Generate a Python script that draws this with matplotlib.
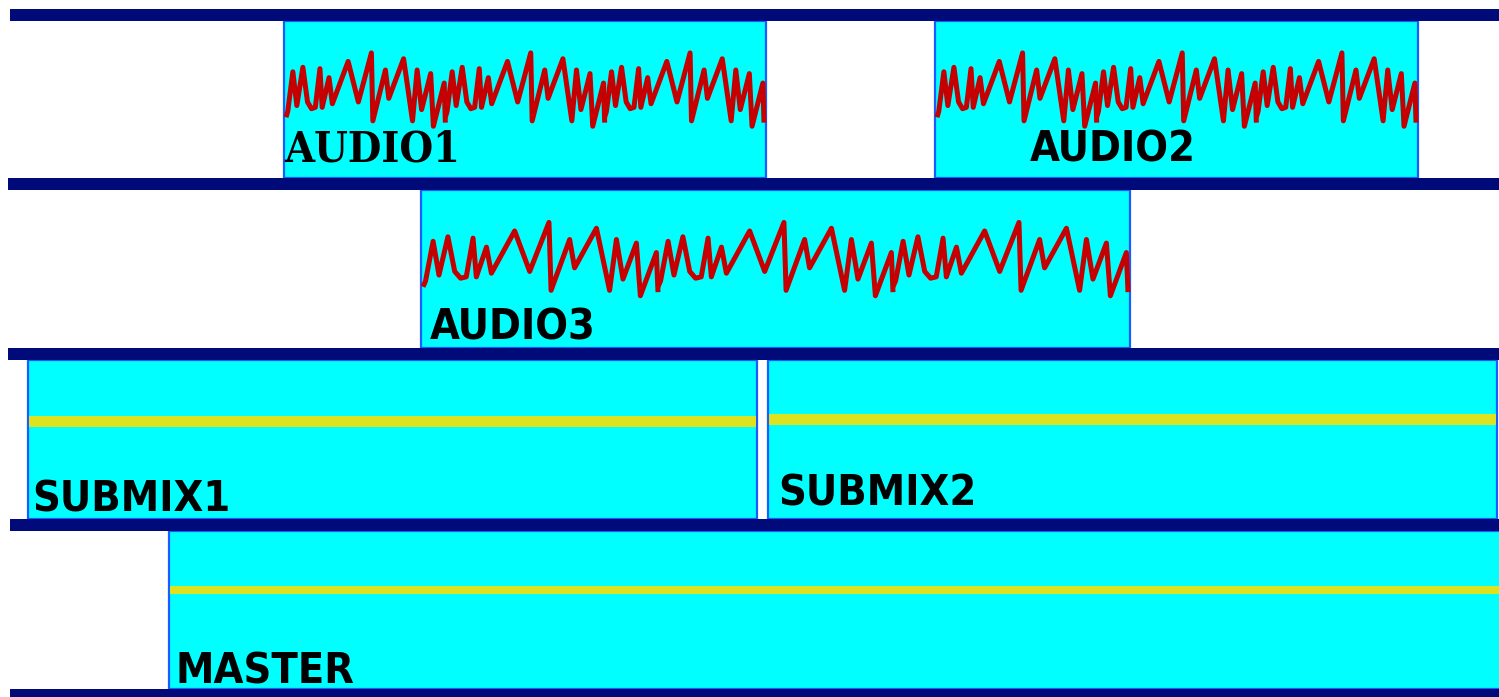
import numpy as np
import matplotlib.pyplot as plt
from matplotlib.patches import Rectangle

# separator bars (pixel rows, top edge) and their left ends
bar_top = [8.5, 178, 348, 519, 689]
bar_left = [10, 8, 8, 10, 10]
bar_h = 12

# clips: lane, start, end
clip_names = ['AUDIO1', 'AUDIO2', 'AUDIO3', 'SUBMIX1', 'SUBMIX2', 'MASTER']
clip_lane = [0, 0, 1, 2, 2, 3]
clip_start = [284, 935, 421, 28, 768, 169]
clip_end = [766, 1418, 1130, 757, 1497, 1515]
clip_kind = ['audio', 'audio', 'audio', 'bus', 'bus', 'bus']

# label placement
label_dx = [0, 95, 9, 4, 10, 7]
label_base = [162, 162, 340, 511, 506, 683]
label_serif = [True, False, False, False, False, False]

# level line of the buses (centre row, thickness px)
level_y = [421.5, 419.5, 590]
level_w = [11, 11, 8]

# one period of the waveform (t 0..1, amplitude)
wave_t = [0.000, 0.011, 0.043, 0.068, 0.106, 0.135, 0.160, 0.184, 0.213, 0.227,
          0.270, 0.291, 0.390, 0.454, 0.536, 0.545, 0.624, 0.645, 0.738, 0.794,
          0.823, 0.851, 0.908, 0.925, 0.993, 1.000]
wave_v = [-0.55, -0.42, 0.46, -0.29, 0.56, -0.21, -0.36, -0.33, 0.53, -0.33,
          0.33, -0.25, 0.69, -0.21, 0.88, -0.63, 0.50, -0.13, 0.75, -0.63,
          0.50, -0.38, 0.42, -0.75, 0.21, -0.67]
n_periods = 3

navy = '#000a78'
cyan = '#00ffff'
edge = '#1a5cff'
red = '#c60000'
yellow = '#dde31e'

fig = plt.figure(figsize=(14.99, 6.97), dpi=100)
ax = fig.add_axes([0, 0, 1, 1])
ax.set_xlim(0, 1499)
ax.set_ylim(697, 0)
ax.axis('off')

lane_top = [bar_top[i] + bar_h for i in range(4)]
lane_bot = [bar_top[i + 1] for i in range(4)]

bus_i = 0
for i, name in enumerate(clip_names):
    ln = clip_lane[i]
    x0, x1 = clip_start[i], clip_end[i]
    y0, y1 = lane_top[ln], lane_bot[ln]
    ax.add_patch(Rectangle((x0, y0), x1 - x0, y1 - y0, facecolor=cyan,
                           edgecolor=edge, linewidth=1.6, zorder=2))
    if clip_kind[i] == 'audio':
        w = (x1 - x0 - 4) / n_periods
        for p in range(n_periods):
            xs = [x0 + 2 + w * (p + t) for t in wave_t]
            ys = [y0 + 72 - v * 45 for v in wave_v]
            ax.plot(xs, ys, color=red, lw=3.6, solid_joinstyle='round',
                    solid_capstyle='butt', zorder=3)
    else:
        yc = level_y[bus_i]
        hw = level_w[bus_i]
        ax.add_patch(Rectangle((x0 + 1, yc - hw / 2), x1 - x0 - 2, hw,
                               facecolor=yellow, edgecolor='none', zorder=3))
        bus_i += 1
    fam = 'DejaVu Serif' if label_serif[i] else 'DejaVu Sans'
    ax.text(x0 + label_dx[i], label_base[i], name, family=fam,
            fontstretch='condensed', fontweight='bold', fontsize=31,
            va='baseline', ha='left', color='black', zorder=4)

for i in range(5):
    ax.add_patch(Rectangle((bar_left[i], bar_top[i]), 1499 - bar_left[i] + 5, bar_h,
                           facecolor=navy, edgecolor='none', zorder=5))

fig.savefig('out.png', dpi=100)
